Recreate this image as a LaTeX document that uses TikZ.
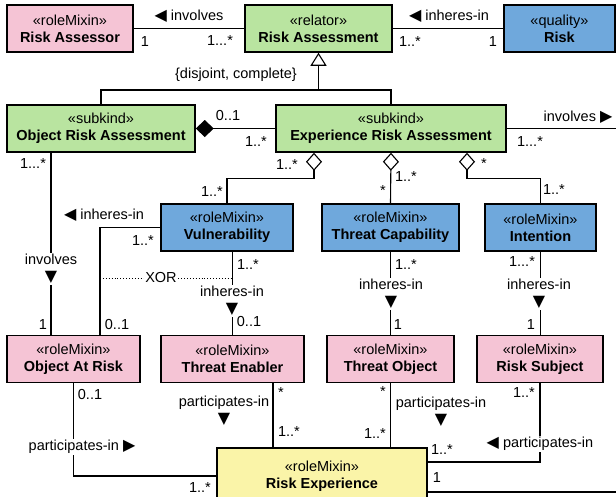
\documentclass[tikz,border=0pt]{standalone}
\usepackage{fontspec}
\setmainfont{Liberation Sans}
\newfontfamily\sym[Scale=1.1]{DejaVu Sans}
\usetikzlibrary{arrows.meta,calc}
\definecolor{rolepink}{HTML}{F5C4D5}
\definecolor{kindgreen}{HTML}{B9E4A0}
\definecolor{qualblue}{HTML}{6FA8DC}
\definecolor{expyellow}{HTML}{FAF4A8}
\newcommand{\fs}{\fontsize{14.5}{17}\selectfont}

\begin{document}
\begin{tikzpicture}[x=1pt,y=-1pt,
  b/.style={draw,line width=1.5pt,align=center,inner sep=0pt,minimum height=47pt,font=\fs},
  ln/.style={line width=1.1pt},
  lab/.style={font=\fs,inner sep=0pt},
  cut/.style={lab,align=center,fill=white,inner sep=1.5pt}]
\clip (0,0) rectangle (616,496);
% classes
\node[b,fill=rolepink,minimum width=126pt] (RAor) at (70,28.5) {«roleMixin»\\\textbf{Risk Assessor}};
\node[b,fill=kindgreen,minimum width=147pt] (RA) at (318.5,28.5) {«relator»\\\textbf{Risk Assessment}};
\node[b,fill=qualblue,minimum width=111pt] (Risk) at (559.5,28.5) {«quality»\\\textbf{Risk}};
\node[b,fill=kindgreen,minimum width=188pt] (ORA) at (101,128.5) {«subkind»\\\textbf{Object Risk Assessment}};
\node[b,fill=kindgreen,minimum width=230pt] (ERA) at (391,128.5) {«subkind»\\\textbf{Experience Risk Assessment}};
\node[b,fill=qualblue,minimum width=132pt] (Vul) at (227,227.5) {«roleMixin»\\\textbf{Vulnerability}};
\node[b,fill=qualblue,minimum width=137pt] (TC) at (390.5,227.5) {«roleMixin»\\\textbf{Threat Capability}};
\node[b,fill=qualblue,minimum width=111pt] (Int) at (540.5,227.5) {«roleMixin»\\\textbf{Intention}};
\node[b,fill=rolepink,minimum width=133pt] (OAR) at (73.5,359) {«roleMixin»\\\textbf{Object At Risk}};
\node[b,fill=rolepink,minimum width=143pt] (TE) at (232.5,359) {«roleMixin»\\\textbf{Threat Enabler}};
\node[b,fill=rolepink,minimum width=127pt] (TO) at (390.5,359) {«roleMixin»\\\textbf{Threat Object}};
\node[b,fill=rolepink,minimum width=126pt] (RS) at (540,359) {«roleMixin»\\\textbf{Risk Subject}};
\node[b,fill=expyellow,minimum width=210pt,minimum height=56pt] (RE) at (322,476) {«roleMixin»\\\textbf{Risk Experience}};

% top row
\draw[ln] (RAor) -- (RA);
\node[lab] (l1) at (189,16) {{\sym ◀} involves};
\node[lab] (l2) at (145,42) {1};
\node[lab] (l3) at (220,41) {1...*};
\draw[ln] (RA) -- (Risk);
\node[lab] (l4) at (449,16) {{\sym ◀} inheres-in};
\node[lab] (l5) at (410,42) {1..*};
\node[lab] (l6) at (493,42) {1};

% generalization set
\coordinate (g) at (318.5,90);
\draw[ln] (ORA.north) |- (g) -| (ERA.north);
\draw[ln,-{Triangle[open,length=13pt,width=16pt]}] (g) -- (RA.south);
\node[lab] (l7) at (236,75) {\{disjoint, complete\}};

% composition
\draw[ln,{Diamond[length=18pt,width=17pt]}-] (ORA.east) -- (ERA.west);
\node[lab] (l8) at (228,116) {0..1};
\node[lab] (l9) at (256,142) {1..*};

% involves (leaves the page)
\draw[ln] (ERA.east) -- ++(140,0) |- ([yshift=-16pt]RE.east);
\node[lab] (l10) at (578,117) {involves {\sym ▶}};
\node[lab] (l11) at (530,142) {1...*};
\node[lab] (l12) at (437,478) {1};

% aggregations
\draw[ln,{Diamond[open,length=18pt,width=16pt]}-] ([xshift=-77pt]ERA.south) -- ++(0,26) -| (Vul.north);
\node[lab] (l13) at (287,165) {1..*};
\node[lab] (l14) at (212,192) {1..*};
\draw[ln,{Diamond[open,length=18pt,width=16pt]}-] (ERA.south) -- (TC.north);
\node[lab] (l15) at (406,177) {1..*};
\node[lab] (l16) at (383,191) {*};
\draw[ln,{Diamond[open,length=18pt,width=16pt]}-] ([xshift=76pt]ERA.south) -- ++(0,26) -| (Int.north);
\node[lab] (l17) at (484,164) {*};
\node[lab] (l18) at (554,190) {1..*};

% object at risk
\draw[ln] ([xshift=-50pt]ORA.south) -- ([xshift=-22.5pt]OAR.north);
\node[lab] (l19) at (33,164) {1...*};
\node[cut] (l20) at (51,269) {involves\\{\sym ▼}};
\node[lab] (l21) at (43,325) {1};
\draw[ln] (Vul.west) -| ([xshift=26.5pt]OAR.north);
\node[lab] (l22) at (104,215) {{\sym ◀} inheres-in};
\node[lab] (l23) at (143,241) {1..*};
\node[lab] (l24) at (117,325) {0..1};

% inheres-in
\draw[ln] (TE.north |- Vul.south) -- (TE.north);
\node[lab] (l25) at (248,265) {1..*};
\node[cut] (l26) at (232,301) {inheres-in\\{\sym ▼}};
\node[lab] (l27) at (249,322) {0..1};
\coordinate (xl) at (100,278);
\coordinate (xr) at (232,278);
\draw[line width=0.9pt,dotted] (xl) -- (xr);
\node[cut] (l28) at (161,278) {XOR};
\draw[ln] (TC.south) -- (TO.north);
\node[lab] (l29) at (406,265) {1..*};
\node[cut] (l30) at (391,294) {inheres-in\\{\sym ▼}};
\node[lab] (l31) at (398,325) {1};
\draw[ln] (Int.south) -- (Int.south |- RS.north);
\node[lab] (l32) at (522,262) {1...*};
\node[cut] (l33) at (539,294) {inheres-in\\{\sym ▼}};
\node[lab] (l34) at (531,325) {1};

% participates-in
\draw[ln] (OAR.south) |- (RE.west);
\node[lab] (l35) at (90,395) {0..1};
\node[cut] (l36) at (82,447) {participates-in {\sym ▶}};
\node[lab] (l37) at (200,488) {1..*};
\draw[ln] ([xshift=40.5pt]TE.south) -- ([xshift=-49pt]RE.north);
\node[lab,align=center] (l38) at (224,411) {participates-in\\{\sym ▼}};
\node[lab] (l39) at (281,393) {*};
\node[lab] (l40) at (289,432) {1..*};
\draw[ln] (TO.south) -- (TO.south |- RE.north);
\node[lab,align=center] (l41) at (441,412) {participates-in\\{\sym ▼}};
\node[lab] (l42) at (383,392) {*};
\node[lab] (l43) at (375,434) {1..*};
\draw[ln] (RS.south) |- ([yshift=14pt]RE.east);
\node[lab] (l44) at (524,393) {1..*};
\node[cut] (l45) at (540,444) {{\sym ◀} participates-in};
\node[lab] (l46) at (442,450) {1..*};
\end{tikzpicture}
\end{document}
